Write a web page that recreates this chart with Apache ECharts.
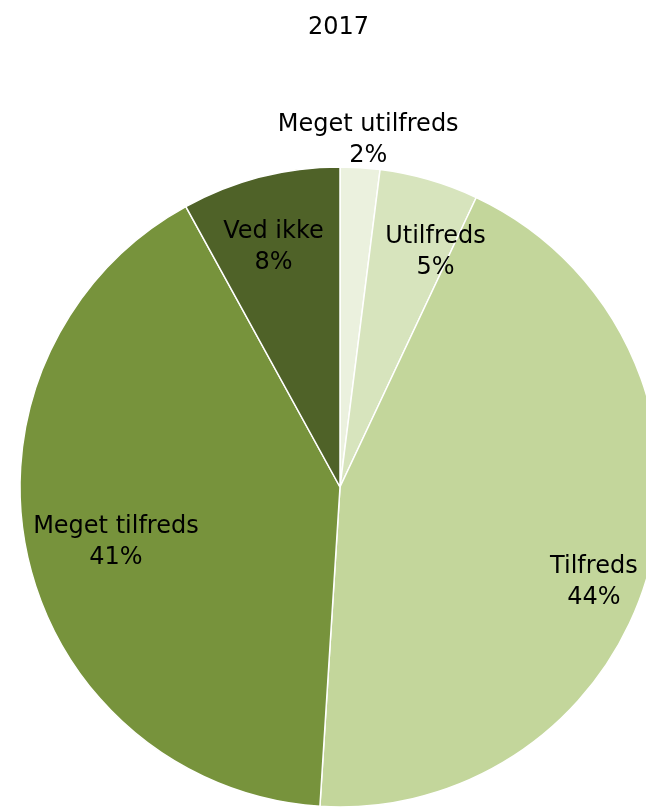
<!DOCTYPE html>
<html>
<head>
<meta charset="utf-8">
<script src="https://cdn.jsdelivr.net/npm/echarts@6/dist/echarts.min.js"></script>
<style>
html,body{margin:0;padding:0;background:#fff;}
#chart{width:646px;height:808px;}
</style>
</head>
<body>
<div id="chart"></div>
<script>
const title = '2017';
const categories = ['Meget utilfreds', 'Utilfreds', 'Tilfreds', 'Meget tilfreds', 'Ved ikke'];
const values = [2, 5, 44, 41, 8];
const colors = ['#EBF1DE', '#D7E4BD', '#C3D69B', '#77933C', '#4F6228'];
// label nudges relative to ECharts' inside-label anchor
const labelShift = [[18, -184], [50, -78], [96, 55], [-65, 20], [-26, -82]];

const chart = echarts.init(document.getElementById('chart'), null, {renderer: 'canvas'});
const FONT = '"DejaVu Sans", sans-serif';

chart.setOption({
  animation: false,
  backgroundColor: '#ffffff',
  title: {
    text: title,
    left: 303,
    top: 11,
    textStyle: {fontFamily: FONT, fontSize: 24, fontWeight: 'normal', color: '#000'}
  },
  series: [{
    type: 'pie',
    center: [340, 487],
    radius: [0, 320],
    startAngle: 90,
    clockwise: true,
    avoidLabelOverlap: false,
    itemStyle: {borderColor: '#ffffff', borderWidth: 1.5},
    label: {
      show: true,
      position: 'inside',
      formatter: p => p.name + '\n' + p.value + '%',
      fontFamily: FONT,
      fontSize: 24,
      lineHeight: 31,
      color: '#000',
      align: 'center',
      verticalAlign: 'middle'
    },
    labelLine: {show: false},
    labelLayout: function (params) {
      const s = labelShift[params.dataIndex];
      return {dx: s[0], dy: s[1]};
    },
    data: categories.map((c, i) => ({
      name: c,
      value: values[i],
      itemStyle: {color: colors[i]}
    }))
  }]
});
</script>
</body>
</html>
